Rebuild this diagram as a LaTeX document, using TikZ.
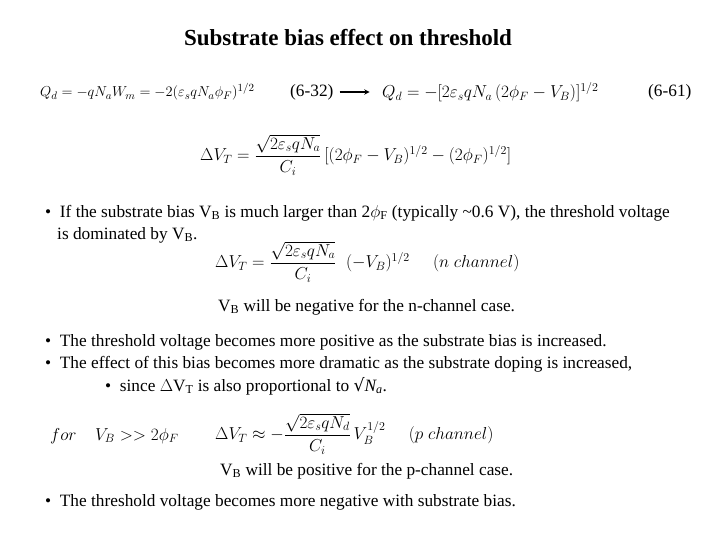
\documentclass[tikz,border=0pt]{standalone}
\usepackage{amsmath}
\usepackage{fontspec}
\setmainfont{Liberation Serif}
\newfontfamily\symf{DejaVu Sans}
\begin{document}
\begin{tikzpicture}[x=1pt,y=-1pt,
  txt/.style={anchor=west,inner sep=0pt,font=\fontsize{17.3}{20}\selectfont},
  eq/.style={anchor=west,inner sep=0pt,font=\fontsize{18.5}{22}\selectfont}]
\useasboundingbox (0,0) rectangle (720,540);
\node[inner sep=0pt,font=\bfseries\fontsize{23}{26}\selectfont] (title) at (348,38) {Substrate bias effect on threshold};
\node[eq,font=\fontsize{15.3}{20}\selectfont] (e1) at (40,92) {$Q_d=-qN_aW_m=-2(\varepsilon_s qN_a\phi_F)^{1/2}$};
\node[txt] (n1) at (290,92) {(6-32)};
\node[eq] (e2) at (382,92) {$Q_d=-[2\varepsilon_s qN_a\,(2\phi_F-V_B)]^{1/2}$};
\node[txt] (n2) at (648,92) {(6-61)};
\draw[line width=1.4pt,-stealth] (n1.east)++(6,0) coordinate (a1) -- ++(30,0) coordinate (a2);
\node[eq] (e3) at (200,155) {$\Delta V_T=\dfrac{\sqrt{2\varepsilon_s qN_a}}{C_i}\,[(2\phi_F-V_B)^{1/2}-(2\phi_F)^{1/2}]$};
\node[txt] (b1) at (45,213) {\textbullet\ \ If the substrate bias V\textsubscript{B} is much larger than 2$\phi$\textsubscript{F} (typically \textasciitilde0.6 V), the threshold voltage};
\node[txt] (b1b) at (57,235) {is dominated by V\textsubscript{B}.};
\node[eq] (e4) at (215,262) {$\Delta V_T=\dfrac{\sqrt{2\varepsilon_s qN_a}}{C_i}\;\;(-V_B)^{1/2}\quad\;(n\ channel)$};
\node[txt] (t1) at (218,307) {V\textsubscript{B} will be negative for the n-channel case.};
\node[txt] (b2) at (45,342) {\textbullet\ \ The threshold voltage becomes more positive as the substrate bias is increased.};
\node[txt] (b3) at (45,364) {\textbullet\ \ The effect of this bias becomes more dramatic as the substrate doping is increased,};
\node[txt] (b4) at (105,386) {\textbullet\ \ since $\Delta$V\textsubscript{T} is also proportional to {\symf √}\textit{N\textsubscript{a}}.};
\node[eq] (e5) at (50,436) {$for\quad V_B>>2\phi_F$};
\node[eq] (e6) at (215,434) {$\Delta V_T\approx-\dfrac{\sqrt{2\varepsilon_s qN_d}}{C_i}\,V_B^{1/2}\quad\;(p\ channel)$};
\node[txt] (t2) at (220,471) {V\textsubscript{B} will be positive for the p-channel case.};
\node[txt] (b5) at (45,502) {\textbullet\ \ The threshold voltage becomes more negative with substrate bias.};
\end{tikzpicture}
\end{document}
